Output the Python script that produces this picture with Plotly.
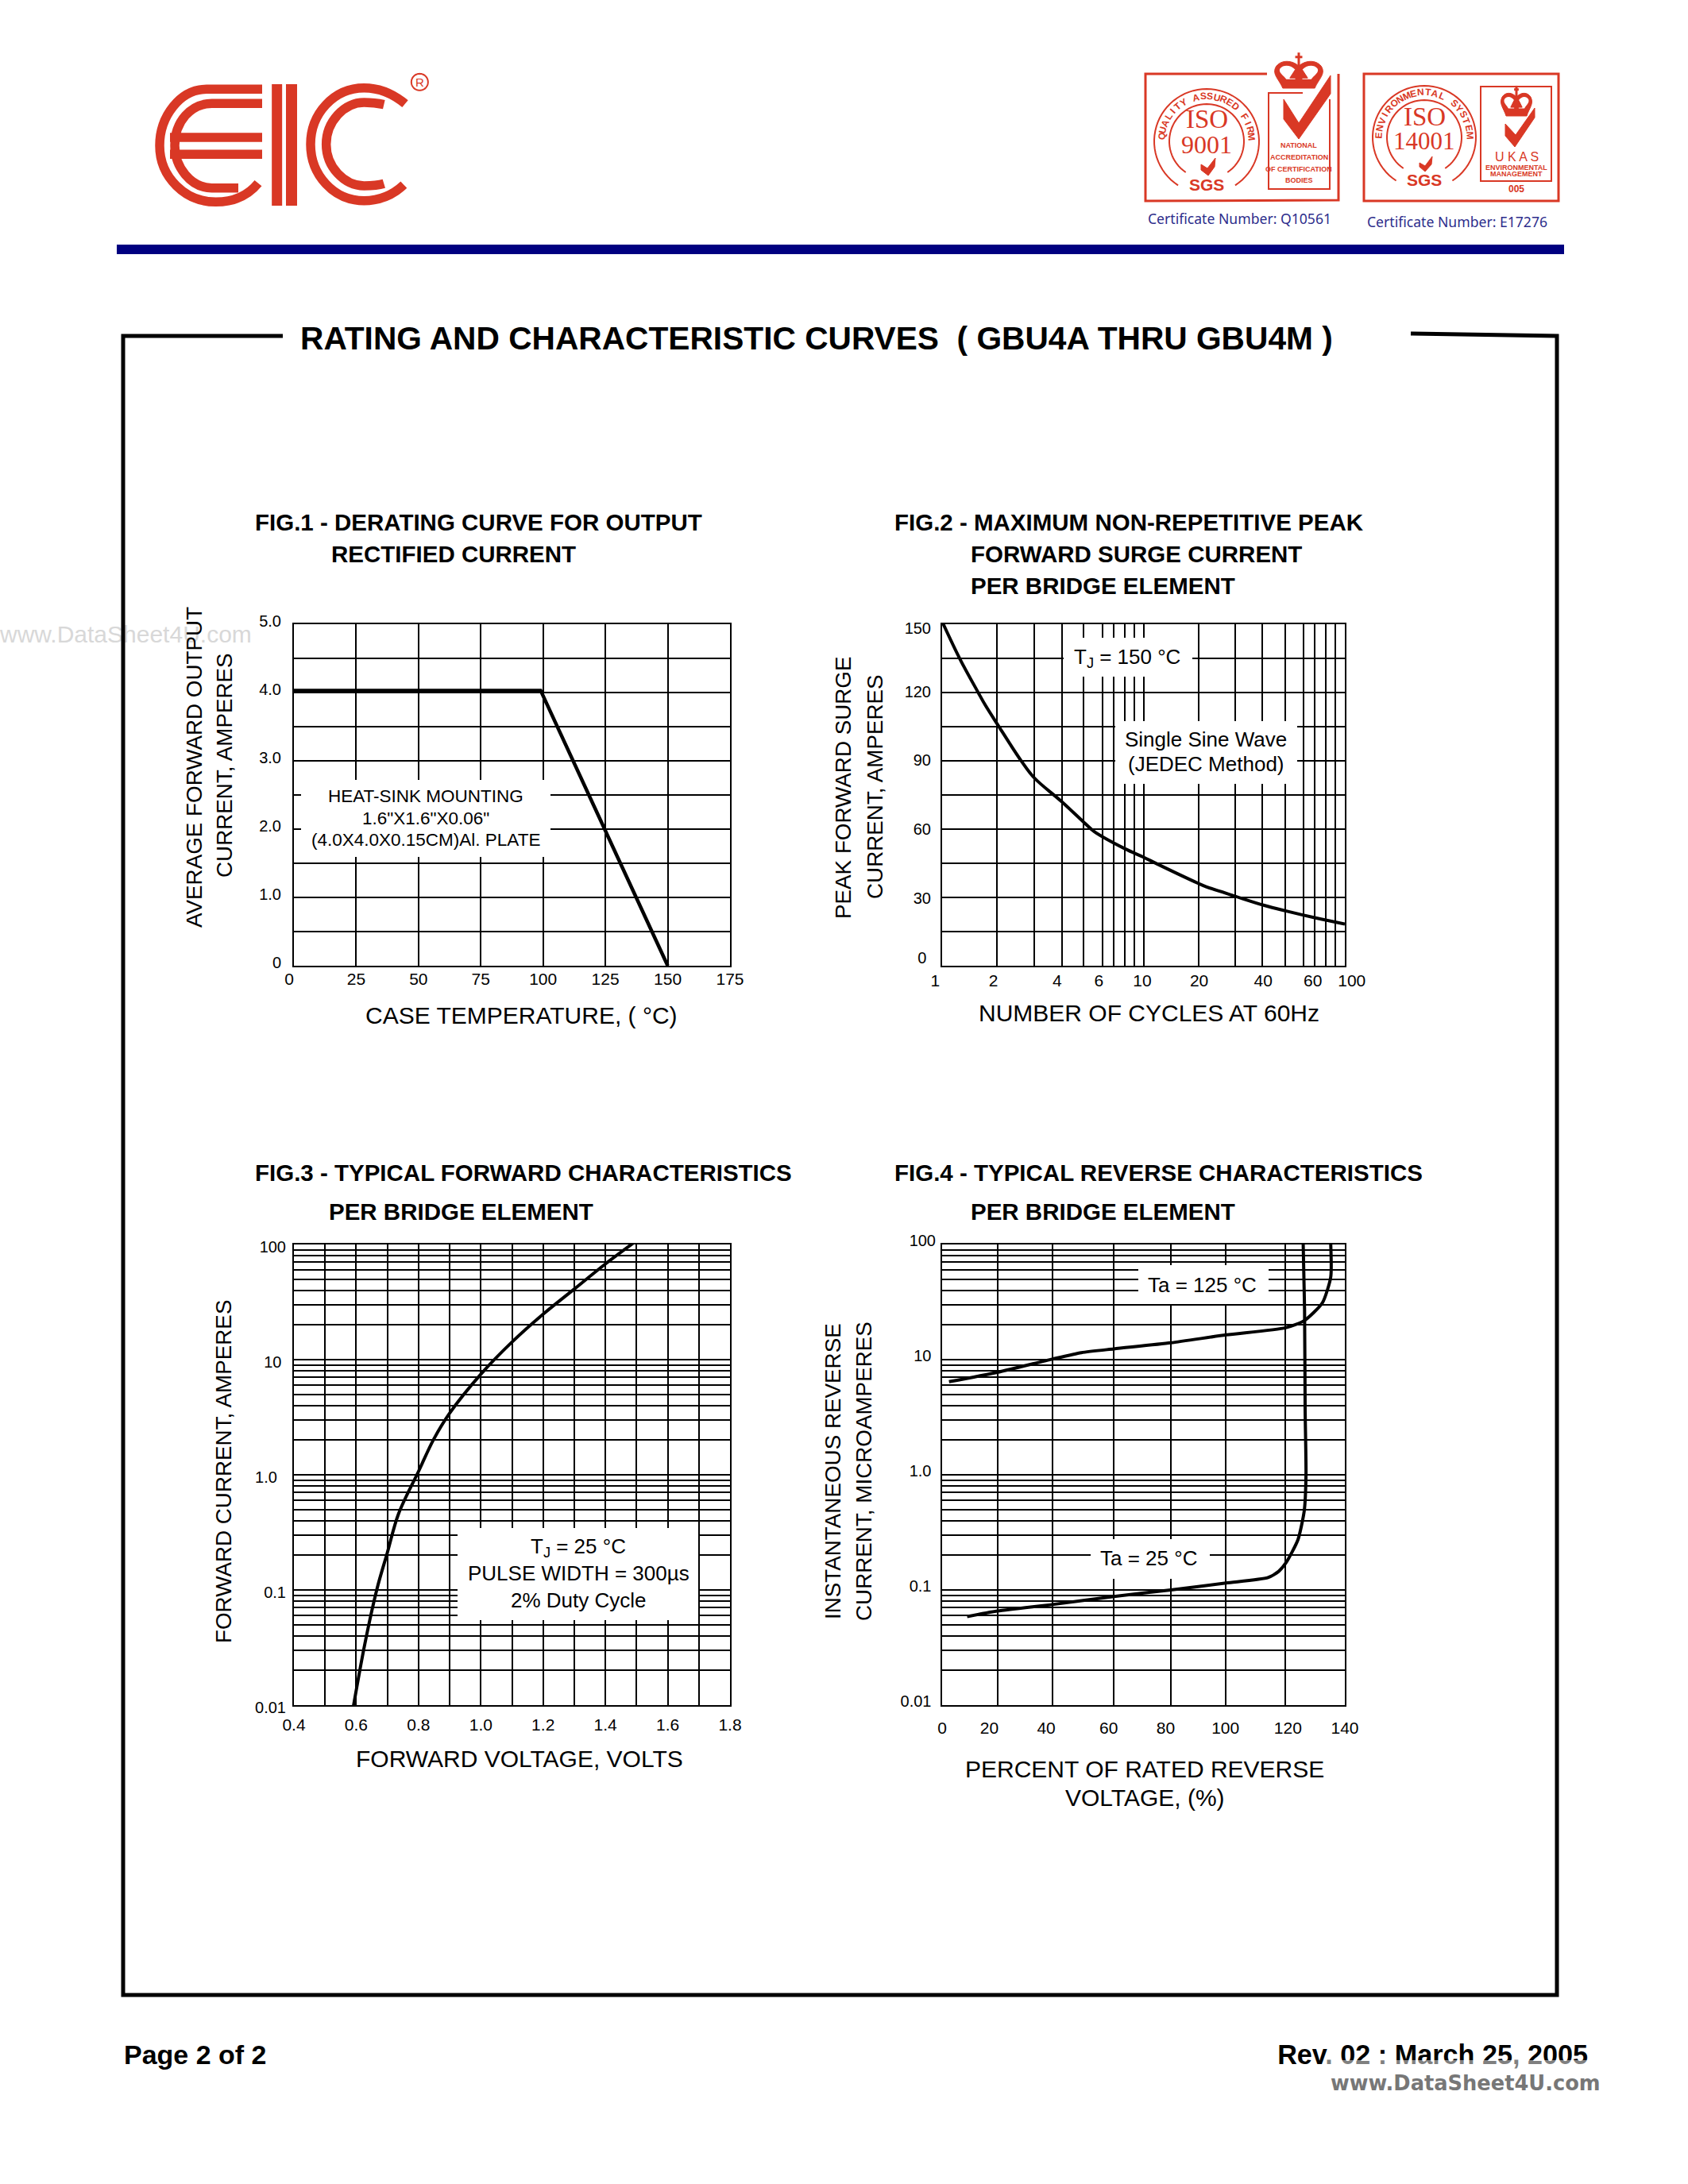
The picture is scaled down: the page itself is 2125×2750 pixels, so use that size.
import re
import math
import plotly.graph_objects as go

W, H = 2125, 2750
SANS = "Liberation Sans"
SERIF = "Liberation Serif"
RED = "#D93825"
NBSP = "\u00a0"

# ---------- data ----------
fig1_x = [-1, 99, 150]
fig1_y = [4.03, 4.03, 0]
fig1_xgrid = [25, 50, 75, 100, 125, 150]
fig1_ygrid = [0.5, 1, 1.5, 2, 2.5, 3, 3.5, 4, 4.5]
fig1_xticks = [0, 25, 50, 75, 100, 125, 150, 175]
fig1_xlabels = ["0" + NBSP * 2, "25", "50", "75", "100", "125", "150", "175"]
fig1_yticks = [0, 1, 2, 3, 4, 5]
fig1_ylabels = ["0", "1.0", "2.0", "3.0", "4.0", "5.0"]

fig2_x = [1, 1.225, 1.507, 1.638, 1.878, 2.48, 2.87, 3.91, 5.06, 5.68, 8.08, 9.94, 11.7, 18.7, 20.5, 28.6, 39.8, 50.7, 71.5, 100]
fig2_y = [151.2, 134.8, 120.2, 114.5, 106.2, 89.8, 82.5, 72.2, 63.0, 59.0, 51.4, 47.8, 44.7, 36.2, 34.7, 30.5, 26.5, 24.1, 21.0, 18.3]
fig2_xgrid = [1.877, 2.866, 3.94, 5.05, 6.25, 7.13, 8.08, 9.0, 10, 18.8, 28.6, 39, 50.5, 62.5, 71, 80.7, 90]
fig2_ygrid = [15, 30, 45, 60, 75, 90, 105, 120, 135]
fig2_xticks = [1, 1.8, 3.73, 6, 9.86, 18.9, 39.3, 69.4, 100]
fig2_xlabels = ["1" + NBSP * 3, "2", "4", "6", "10", "20", "40", "60", NBSP * 3 + "100"]
fig2_yticks = [3.6, 29.8, 60, 90.5, 120.2, 148.2]
fig2_ylabels = ["0" + NBSP, "30", "60", "90", "120", "150"]

fig3_x = [0.59, 0.628, 0.667, 0.70, 0.736, 0.80, 0.849, 0.90, 1.0, 1.1, 1.2, 1.3, 1.4, 1.494]
fig3_y = [0.0094, 0.0343, 0.103, 0.211, 0.459, 1.07, 2.04, 3.43, 7.47, 14.2, 24.8, 41, 67.8, 105]
fig3_xgrid = [0.5, 0.6, 0.7, 0.8, 0.9, 1.0, 1.1, 1.2, 1.3, 1.4, 1.5, 1.6, 1.7]
log_ygrid = [m * d for d in (0.01, 0.1, 1, 10) for m in (1, 2, 3, 4, 5, 6, 7, 8, 9)] + [100]
fig3_xticks = [0.4, 0.6, 0.8, 1.0, 1.2, 1.4, 1.6, 1.8]
fig3_xlabels = ["0.4", "0.6", "0.8", "1.0", "1.2", "1.4", "1.6", "1.8"]
fig3_yticks = [0.01, 0.1, 1, 10, 100]
fig3_ylabels = ["0.01", "0.1", "1.0" + NBSP * 2, "10" + NBSP, "100"]

fig4_x125 = [2.4, 19.2, 38.3, 48.4, 59.7, 79.5, 98.7, 119.4, 125.9, 132.2, 135.1, 135.1]
fig4_y125 = [6.43, 7.76, 10.1, 11.5, 12.4, 14.0, 16.4, 18.9, 21.8, 31.1, 52.2, 100]
fig4_x25 = [8.7, 19.2, 38.3, 59.7, 79.5, 98.7, 113.3, 117, 119.6, 123.7, 125.9, 126.5, 126.2, 126, 125.5]
fig4_y25 = [0.0587, 0.0656, 0.0747, 0.0878, 0.1, 0.115, 0.128, 0.145, 0.173, 0.273, 0.49, 1.0, 3.66, 27.3, 107]
fig4_xgrid = [19.2, 38.3, 59.7, 79.5, 98.7, 119.4]
fig4_xticks = [0, 16.4, 36.2, 57.9, 77.7, 98.5, 120.2, 140]
fig4_xlabels = ["0", "20", "40", "60", "80", "100", "120", "140"]
fig4_yticks = [0.01, 0.1, 1, 10, 100]
fig4_ylabels = ["0.01" + NBSP, "0.1" + NBSP, "1.0" + NBSP, "10" + NBSP, "100"]

# ---------- helpers ----------
fig = go.Figure()
shapes = []
annos = []


def anno(px, py, text, size, color="black", family=SANS, anchor="center", angle=0, bold=False):
    annos.append(dict(
        x=px, y=py, xref="x5", yref="y5", text=f"<b>{text}</b>" if bold else text,
        showarrow=False, xanchor=anchor, yanchor="middle", textangle=angle,
        font=dict(family=family, size=size, color=color), borderpad=0, borderwidth=0,
    ))


def page_path(path, color=RED, width=3, fill=None):
    d = dict(type="path", path=path, xref="x5", yref="y5", layer="above",
             line=dict(color=color, width=width))
    if fill:
        d["fillcolor"] = fill
        d["line"] = dict(color=fill, width=width)
    shapes.append(d)


def rect(x0, y0, x1, y1, color="white", opacity=1):
    shapes.append(dict(type="rect", x0=x0, x1=x1, y0=y0, y1=y1, xref="x5", yref="y5", layer="above",
                       fillcolor=color, line_width=0, opacity=opacity))


def mapped(path, fx, fy):
    return re.sub(r"(-?[\d.]+),(-?[\d.]+)",
                  lambda m: f"{fx(float(m.group(1))):.2f},{fy(float(m.group(2))):.2f}", path)


def arc(cx, cy, r, a0, a1, color=RED, width=2):
    n = 60
    pts = []
    for i in range(n + 1):
        a = math.radians(a0 + (a1 - a0) * i / n)
        pts.append(f"{cx + r * math.sin(a):.2f},{cy - r * math.cos(a):.2f}")
    page_path("M" + " L".join(pts), color, width)


def arc_text(cx, cy, r, text, a0, a1, size):
    for i, ch in enumerate(text):
        a = a0 + (i + 0.5) / len(text) * (a1 - a0)
        ra = math.radians(a)
        if ch != " ":
            anno(cx + r * math.sin(ra), cy - r * math.cos(ra), ch, size, RED, SANS, angle=a, bold=True)


def crown(cx, top, w, h):
    fx = lambda v: cx + v * w
    fy = lambda v: top + v * h
    page_path(mapped("M-0.36,1 C-0.45,0.7 -0.62,0.55 -0.5,0.3 C-0.38,0.1 -0.15,0.12 0,0.3 C0.15,0.12 0.38,0.1 0.5,0.3 C0.62,0.55 0.45,0.7 0.36,1 Z", fx, fy), fill=RED, width=1)
    page_path(mapped("M-0.28,0.72 C-0.34,0.6 -0.47,0.5 -0.42,0.38 C-0.34,0.24 -0.16,0.28 -0.08,0.42 L-0.08,0.72 Z", fx, fy), fill="white", width=0)
    page_path(mapped("M0.28,0.72 C0.34,0.6 0.47,0.5 0.42,0.38 C0.34,0.24 0.16,0.28 0.08,0.42 L0.08,0.72 Z", fx, fy), fill="white", width=0)
    page_path(mapped("M0,-0.12 L0,0.9", fx, fy), RED, 3)
    page_path(mapped("M-0.2,0.68 L-0.08,0.42 L0.08,0.42 L0.2,0.68 Z", fx, fy), fill=RED, width=1)
    page_path(mapped("M-0.08,0.02 L0.08,0.02", fx, fy), RED, 3)


# ---------- traces ----------
line = dict(color="black", width=4)
smooth = dict(shape="spline", smoothing=1.0, **line)
fig.add_trace(go.Scatter(x=fig1_x, y=fig1_y, mode="lines", line=dict(color="black", width=4.5), xaxis="x", yaxis="y", cliponaxis=False, showlegend=False))
fig.add_trace(go.Scatter(x=fig2_x, y=fig2_y, mode="lines", line=smooth, xaxis="x2", yaxis="y2", cliponaxis=False, showlegend=False))
fig.add_trace(go.Scatter(x=fig3_x, y=fig3_y, mode="lines", line=smooth, xaxis="x3", yaxis="y3", cliponaxis=False, showlegend=False))
fig.add_trace(go.Scatter(x=fig4_x125, y=fig4_y125, mode="lines", line=dict(shape="spline", smoothing=0.6, **line), xaxis="x4", yaxis="y4", cliponaxis=False, showlegend=False))
fig.add_trace(go.Scatter(x=fig4_x25, y=fig4_y25, mode="lines", line=dict(shape="spline", smoothing=0.6, **line), xaxis="x4", yaxis="y4", cliponaxis=False, showlegend=False))

# page-level text that sits beneath frame lines and the watermark band
fig.add_trace(go.Scatter(x=[0], y=[801], mode="text", text=["www.DataSheet4U.com"], textposition="middle right",
                         textfont=dict(family=SANS, size=30, color="#D8D8D8"), xaxis="x5", yaxis="y5", cliponaxis=False, showlegend=False))
fig.add_trace(go.Scatter(x=[1999], y=[2590], mode="text", text=["<b>Rev. 02 : March 25, 2005</b>"], textposition="middle left",
                         textfont=dict(family=SANS, size=34.2, color="black"), xaxis="x5", yaxis="y5", cliponaxis=False, showlegend=False))


# ---------- axes ----------
def x_axis(x0, x1, anchor, rng, typ, grid, ticks, labels, standoff, size):
    return dict(domain=[x0 / W, x1 / W], anchor=anchor, range=rng, type=typ, automargin=False,
                showline=True, mirror=True, linecolor="black", linewidth=2,
                showgrid=False, zeroline=False, ticks="", tickmode="array", tickvals=ticks, ticktext=labels,
                tickangle=0, tickfont=dict(family=SANS, size=size, color="black"), ticklabelstandoff=standoff,
                minor=dict(tickmode="array", tickvals=grid, showgrid=True, gridcolor="black", gridwidth=2, ticks=""))


def y_axis(y0, y1, anchor, rng, typ, grid, ticks, labels, standoff, size, shift):
    return dict(domain=[1 - y1 / H, 1 - y0 / H], anchor=anchor, range=rng, type=typ, automargin=False,
                showline=True, mirror=True, linecolor="black", linewidth=2,
                showgrid=False, zeroline=False, ticks="", tickmode="array", tickvals=ticks, ticktext=labels,
                tickfont=dict(family=SANS, size=size, color="black"), ticklabelstandoff=standoff, ticklabelshift=shift,
                minor=dict(tickmode="array", tickvals=grid, showgrid=True, gridcolor="black", gridwidth=2, ticks=""))


L1, R1, L2, R2 = 370, 919, 1186, 1693
T1, B1, T2, B2 = 786, 1216, 1567, 2147
layout_axes = dict(
    xaxis=x_axis(L1, R1, "y", [0, 175], "linear", fig1_xgrid, fig1_xticks, fig1_xlabels, -3, 21),
    yaxis=y_axis(T1, B1, "x", [0, 5], "linear", fig1_ygrid, fig1_yticks, fig1_ylabels, 10, 20, -4),
    xaxis2=x_axis(L2, R2, "y2", [0, 2], "log", fig2_xgrid, fig2_xticks, fig2_xlabels, -1, 21),
    yaxis2=y_axis(T1, B1, "x2", [0, 150], "linear", fig2_ygrid, fig2_yticks, fig2_ylabels, 8, 20, 0),
    xaxis3=x_axis(L1, R1, "y3", [0.4, 1.8], "linear", fig3_xgrid, fig3_xticks, fig3_xlabels, 5, 21),
    yaxis3=y_axis(T2, B2, "x3", [-2, 2], "log", log_ygrid, fig3_yticks, fig3_ylabels, 4, 20, 3),
    xaxis4=x_axis(L2, R2, "y4", [0, 140], "linear", fig4_xgrid, fig4_xticks, fig4_xlabels, 9, 21),
    yaxis4=y_axis(T2, B2, "x4", [-2, 2], "log", log_ygrid, fig4_yticks, fig4_ylabels, 2, 20, -5),
    xaxis5=dict(domain=[0, 1], anchor="y5", range=[0, W], visible=False, fixedrange=True),
    yaxis5=dict(domain=[0, 1], anchor="x5", range=[H, 0], visible=False, fixedrange=True),
)

# ---------- masks behind the notes ----------
rect(379, 982, 693, 1079)
rect(1339, 803, 1501, 852)
rect(1404, 908, 1633, 987)
rect(576, 1924, 879, 2040)
rect(1433, 1593, 1597, 1642)
rect(1373, 1938, 1523, 1988)

# ---------- page frame, bar ----------
rect(147, 308, 1969, 320, color="#000080")
page_path("M356,423 L155,423 L155,2512 L1960,2512 L1960,423 L1776,420", "black", 5)

# ---------- texts ----------
anno(1028, 426, "RATING AND CHARACTERISTIC CURVES  ( GBU4A THRU GBU4M )", 40.7, bold=True)
FT = 29.5
anno(321, 657, "FIG.1 - DERATING CURVE FOR OUTPUT", FT, anchor="left", bold=True)
anno(417, 697, "RECTIFIED CURRENT", FT, anchor="left", bold=True)
anno(1126, 657, "FIG.2 - MAXIMUM NON-REPETITIVE PEAK", FT, anchor="left", bold=True)
anno(1222, 697, "FORWARD SURGE CURRENT", FT, anchor="left", bold=True)
anno(1222, 737, "PER BRIDGE ELEMENT", FT, anchor="left", bold=True)
anno(321, 1476, "FIG.3 - TYPICAL FORWARD CHARACTERISTICS", FT, anchor="left", bold=True)
anno(414, 1525, "PER BRIDGE ELEMENT", FT, anchor="left", bold=True)
anno(1126, 1476, "FIG.4 - TYPICAL REVERSE CHARACTERISTICS", FT, anchor="left", bold=True)
anno(1222, 1525, "PER BRIDGE ELEMENT", FT, anchor="left", bold=True)

XT, YT = 30, 27.8
anno(244, 966, "AVERAGE FORWARD OUTPUT", YT, angle=-90)
anno(282, 964, "CURRENT, AMPERES", YT, angle=-90)
anno(656, 1278, "CASE TEMPERATURE, ( °C)", XT)
anno(1061, 992, "PEAK FORWARD SURGE", YT, angle=-90)
anno(1101, 991, "CURRENT, AMPERES", YT, angle=-90)
anno(1446, 1275, "NUMBER OF CYCLES AT 60Hz", XT)
anno(281, 1853, "FORWARD CURRENT, AMPERES", YT, angle=-90)
anno(654, 2214, "FORWARD VOLTAGE, VOLTS", XT)
anno(1048, 1853, "INSTANTANEOUS REVERSE", YT, angle=-90)
anno(1087, 1853, "CURRENT, MICROAMPERES", YT, angle=-90)
anno(1441, 2227, "PERCENT OF RATED REVERSE", XT)
anno(1441, 2263, "VOLTAGE, (%)", XT)

anno(536, 1002, "HEAT-SINK MOUNTING", 22.5)
anno(536, 1030, '1.6"X1.6"X0.06"', 22.5)
anno(536, 1057, "(4.0X4.0X0.15CM)Al. PLATE", 22.5)
anno(1419, 828, "T<sub>J</sub> = 150 °C", 26)
anno(1518, 931, "Single Sine Wave", 26)
anno(1518, 962, "(JEDEC Method)", 26)
anno(728, 1948, "T<sub>J</sub> = 25 °C", 26)
anno(728, 1981, "PULSE WIDTH = 300µs", 26)
anno(728, 2015, "2% Duty Cycle", 26)
anno(1513, 1618, "Ta = 125 °C", 26)
anno(1446, 1962, "Ta = 25 °C", 26)

anno(156, 2587, "Page 2 of 2", 34, anchor="left", bold=True)
rect(1670, 2594, 2020, 2645, opacity=0.5)
anno(1675, 2623, "www.DataSheet4U.com", 25.7, "#777777", "DejaVu Sans", anchor="left", bold=True)

# ---------- EIC logo ----------
lx = lambda v: 140 + v / 3
ly = lambda v: 60 + v / 3
for p, wd in [
    ("M570,157 L360,157 C260,157 183,260 183,370 C183,490 280,583 395,583 C470,583 520,555 555,512", 11.5),
    ("M570,211 L380,211 C300,211 240,280 240,370 C240,450 300,530 380,530 L480,530", 11.5),
    ("M222,339 L570,339", 11.5),
    ("M222,403 L570,403", 11.5),
    ("M626,138 L626,597", 13),
    ("M681,138 L681,597", 14),
    ("M1110,212 C1060,170 1010,152 955,152 C840,152 753,250 753,365 C753,480 840,578 955,578 C1010,578 1060,560 1105,518", 11.5),
    ("M1030,215 C1000,208 980,207 955,207 C880,207 812,280 812,365 C812,450 880,522 955,522 C985,522 1010,520 1030,514", 11.5),
]:
    page_path(mapped(p, lx, ly), RED, wd)
arc(lx(1165), ly(130), 10.5, 0, 360, RED, 2)
anno(lx(1165), ly(130) + 0.5, "R", 15, RED)

# ---------- ISO 9001 badge ----------
page_path("M1595,93 L1442,93 L1442,253 L1685,252 L1685,93", RED, 3)
arc(1519, 178, 66, -147, 147)
arc(1519, 178, 47, -146, 146)
arc_text(1519, 178, 57, "QUALITY ASSURED FIRM", -88, 88, 12)
anno(1519, 150, "ISO", 33, RED, SERIF)
anno(1519, 182, "9001", 32, RED, SERIF)
page_path("M1512,207 L1520,212 L1530,199 L1529,210 L1521,221 L1512,214 Z", fill=RED, width=1)
anno(1519, 232, "SGS", 21, RED, bold=True)
shapes.append(dict(type="rect", x0=1597, x1=1674, y0=117, y1=238, xref="x5", yref="y5", layer="above", line=dict(color=RED, width=2)))
rect(1640, 100, 1680, 125)
page_path("M1616,125 L1635,155 L1675,95 L1675,118 L1635,175 L1616,150 Z", fill=RED, width=1)
crown(1635, 71, 56, 40)
anno(1635, 183, "NATIONAL", 9, RED, SANS, bold=True)
anno(1635, 198, "ACCREDITATION", 9, RED, SANS, bold=True)
anno(1635, 213, "OF CERTIFICATION", 9, RED, SANS, bold=True)
anno(1635, 227, "BODIES", 9, RED, SANS, bold=True)
anno(1560, 275, "Certificate Number: Q10561", 17.6, "#2E2E8C", "Noto Sans")

# ---------- ISO 14001 badge ----------
page_path("M1717,93 L1962,93 L1962,253 L1717,253 Z", RED, 3)
arc(1793, 173, 65, -147, 147)
arc(1793, 173, 47, -146, 146)
arc_text(1793, 173, 57, "ENVIRONMENTAL SYSTEM", -92, 92, 12)
anno(1793, 147, "ISO", 33, RED, SERIF)
anno(1793, 177, "14001", 31, RED, SERIF)
page_path("M1787,205 L1794,209 L1803,197 L1802,207 L1794,216 L1787,210 Z", fill=RED, width=1)
anno(1793, 226, "SGS", 21, RED, bold=True)
shapes.append(dict(type="rect", x0=1864, x1=1953, y0=109, y1=228, xref="x5", yref="y5", layer="above", line=dict(color=RED, width=2)))
crown(1909, 112, 36, 34)
page_path("M1895,156 L1908,170 L1932,136 L1932,148 L1907,185 L1895,171 Z", fill=RED, width=1)
anno(1909, 197, "U K A S", 16, RED)
anno(1909, 211, "ENVIRONMENTAL", 9, RED, SANS, bold=True)
anno(1909, 219, "MANAGEMENT", 9, RED, SANS, bold=True)
anno(1909, 238, "005", 12, RED, bold=True)
anno(1834, 279, "Certificate Number: E17276", 17.6, "#2E2E8C", "Noto Sans")

fig.update_layout(
    width=W, height=H, autosize=False, margin=dict(l=0, r=0, t=0, b=0, pad=0),
    paper_bgcolor="white", plot_bgcolor="rgba(0,0,0,0)", showlegend=False,
    shapes=shapes, annotations=annos, **layout_axes,
)
fig.write_html("out.html", config=dict(displayModeBar=False), post_script="document.body.style.margin='0';")
